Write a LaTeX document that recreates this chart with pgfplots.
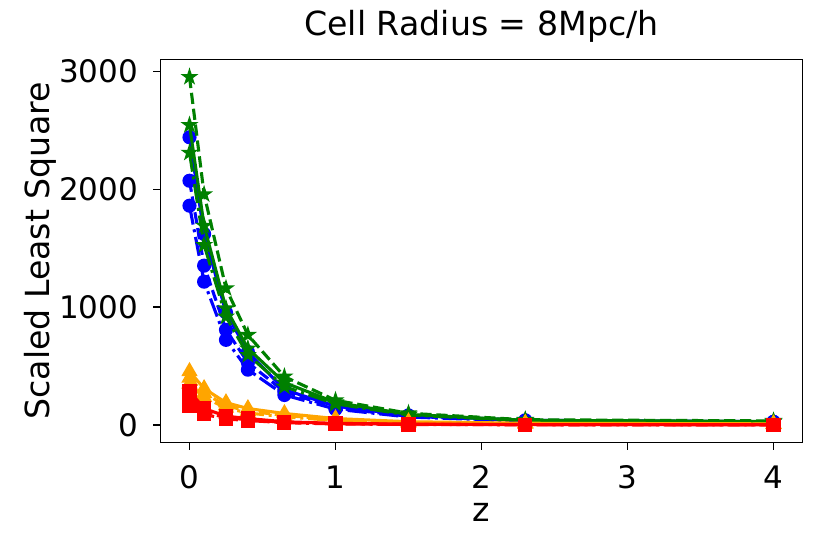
\documentclass[border=0pt]{standalone}
\usepackage{fontspec}
\setmainfont{DejaVu Sans}
\usepackage{pgfplots}
\pgfplotsset{compat=1.18}
\usetikzlibrary{plotmarks}
\definecolor{mplblue}{rgb}{0,0,1}
\definecolor{mplgreen}{rgb}{0,0.5,0}
\definecolor{mplorange}{rgb}{1,0.647,0}
\definecolor{mplred}{rgb}{1,0,0}
\pgfdeclareplotmark{fstar}{%
  \pgfpathmoveto{\pgfpointpolar{90}{\pgfplotmarksize}}%
  \pgfpathlineto{\pgfpointpolar{126}{0.382\pgfplotmarksize}}%
  \pgfpathlineto{\pgfpointpolar{162}{\pgfplotmarksize}}%
  \pgfpathlineto{\pgfpointpolar{198}{0.382\pgfplotmarksize}}%
  \pgfpathlineto{\pgfpointpolar{234}{\pgfplotmarksize}}%
  \pgfpathlineto{\pgfpointpolar{270}{0.382\pgfplotmarksize}}%
  \pgfpathlineto{\pgfpointpolar{306}{\pgfplotmarksize}}%
  \pgfpathlineto{\pgfpointpolar{342}{0.382\pgfplotmarksize}}%
  \pgfpathlineto{\pgfpointpolar{18}{\pgfplotmarksize}}%
  \pgfpathlineto{\pgfpointpolar{54}{0.382\pgfplotmarksize}}%
  \pgfpathclose
  \pgfusepathqfillstroke
}
\tikzset{
  mdashed/.style={dash pattern=on 5.6bp off 2.4bp},
  mdashdot/.style={dash pattern=on 9.6bp off 2.4bp on 1.5bp off 2.4bp},
}
\begin{document}
\fontsize{15.5bp}{18bp}\selectfont
\begin{tikzpicture}
\path[use as bounding box] (-80.15bp,-55.65bp) rectangle (334.85bp,221.35bp);
\begin{axis}[
  at={(0,0)}, anchor=south west,
  scale only axis, width=321.2bp, height=191.7bp,
  xmin=-0.2, xmax=4.2, ymin=-150, ymax=3105,
  xtick={0,1,2,3,4}, ytick={0,1000,2000,3000},
  xtick pos=bottom, ytick pos=left,
  tick align=outside, major tick length=3.4bp,
  every tick/.style={black, line width=0.77bp},
  axis line style={line width=0.77bp},
  x tick label style={/pgf/number format/assume math mode=true},
  y tick label style={/pgf/number format/assume math mode=true},
  /pgf/number format/1000 sep={},
  scaled y ticks=false,
  tick label style={font=\fontsize{15.5bp}{18bp}\selectfont},
  xticklabel style={anchor=base, inner sep=0pt, yshift=-19.6bp},
  yticklabel style={anchor=east, inner sep=0pt, xshift=-7.6bp},
  title={Cell Radius = 8Mpc/h},
  title style={at={(0.5,1)}, anchor=base, inner sep=0pt, yshift=5.8bp, font=\fontsize{16.6bp}{19bp}\selectfont},
  xlabel={z},
  xlabel style={at={(axis description cs:0.5,0)}, anchor=base, inner sep=0pt, yshift=-39.5bp, font=\fontsize{16.6bp}{19bp}\selectfont},
  ylabel={Scaled Least Square},
  ylabel style={at={(axis description cs:-0.1725,0.5)}, anchor=base, inner sep=0pt, font=\fontsize{16.6bp}{19bp}\selectfont},
  every axis plot/.append style={line width=1.55bp},
  clip mode=individual,
]
% blue circles
\addplot[mplblue, mark=*, mark size=3.05bp, mark options={solid, line width=0.96bp}] coordinates {
(0,2443) (0.1,1622) (0.25,955) (0.4,620) (0.65,300) (1,160) (1.5,82) (2.3,40) (4,28)};
\addplot[mplblue, mdashed, mark=*, mark size=3.05bp, mark options={solid, line width=0.96bp}] coordinates {
(0,2074) (0.1,1353) (0.25,808) (0.4,530) (0.65,283) (1,145) (1.5,74) (2.3,36) (4,25)};
\addplot[mplblue, mdashdot, mark=*, mark size=3.05bp, mark options={solid, line width=0.96bp}] coordinates {
(0,1862) (0.1,1217) (0.25,723) (0.4,470) (0.65,255) (1,135) (1.5,68) (2.3,33) (4,22)};
% green stars
\addplot[mplgreen, mdashed, mark=fstar, mark size=3.2bp, mark options={solid, line width=0.96bp}] coordinates {
(0,2955) (0.1,1959) (0.25,1161) (0.4,765) (0.65,411) (1,210) (1.5,100) (2.3,45) (4,35)};
\addplot[mplgreen, mark=fstar, mark size=3.2bp, mark options={solid, line width=0.96bp}] coordinates {
(0,2547) (0.1,1692) (0.25,990) (0.4,650) (0.65,360) (1,192) (1.5,90) (2.3,40) (4,30)};
\addplot[mplgreen, mdashdot, mark=fstar, mark size=3.2bp, mark options={solid, line width=0.96bp}] coordinates {
(0,2312) (0.1,1528) (0.25,920) (0.4,595) (0.65,326) (1,180) (1.5,85) (2.3,38) (4,28)};
% orange triangles
\addplot[mplorange, mark=triangle*, mark size=3.8bp, mark options={solid, line width=0.96bp}] coordinates {
(0,455) (0.1,310) (0.25,190) (0.4,140) (0.65,98) (1,55) (1.5,28) (2.3,15) (4,10)};
\addplot[mplorange, mdashed, mark=triangle*, mark size=3.8bp, mark options={solid, line width=0.96bp}] coordinates {
(0,400) (0.1,270) (0.25,165) (0.4,118) (0.65,82) (1,45) (1.5,22) (2.3,12) (4,8)};
\addplot[mplorange, mdashdot, mark=triangle*, mark size=3.8bp, mark options={solid, line width=0.96bp}] coordinates {
(0,350) (0.1,235) (0.25,145) (0.4,102) (0.65,70) (1,38) (1.5,18) (2.3,10) (4,6)};
% red squares
\addplot[mplred, mark=square*, mark size=3.05bp, mark options={solid, line width=0.96bp}] coordinates {
(0,290) (0.1,140) (0.25,75) (0.4,55) (0.65,28) (1,14) (1.5,8) (2.3,4) (4,2)};
\addplot[mplred, mdashed, mark=square*, mark size=3.05bp, mark options={solid, line width=0.96bp}] coordinates {
(0,210) (0.1,110) (0.25,62) (0.4,45) (0.65,23) (1,11) (1.5,6) (2.3,3) (4,1)};
\addplot[mplred, mdashdot, mark=square*, mark size=3.05bp, mark options={solid, line width=0.96bp}] coordinates {
(0,160) (0.1,90) (0.25,52) (0.4,38) (0.65,20) (1,9) (1.5,5) (2.3,2) (4,1)};
\end{axis}
\end{tikzpicture}
\end{document}
